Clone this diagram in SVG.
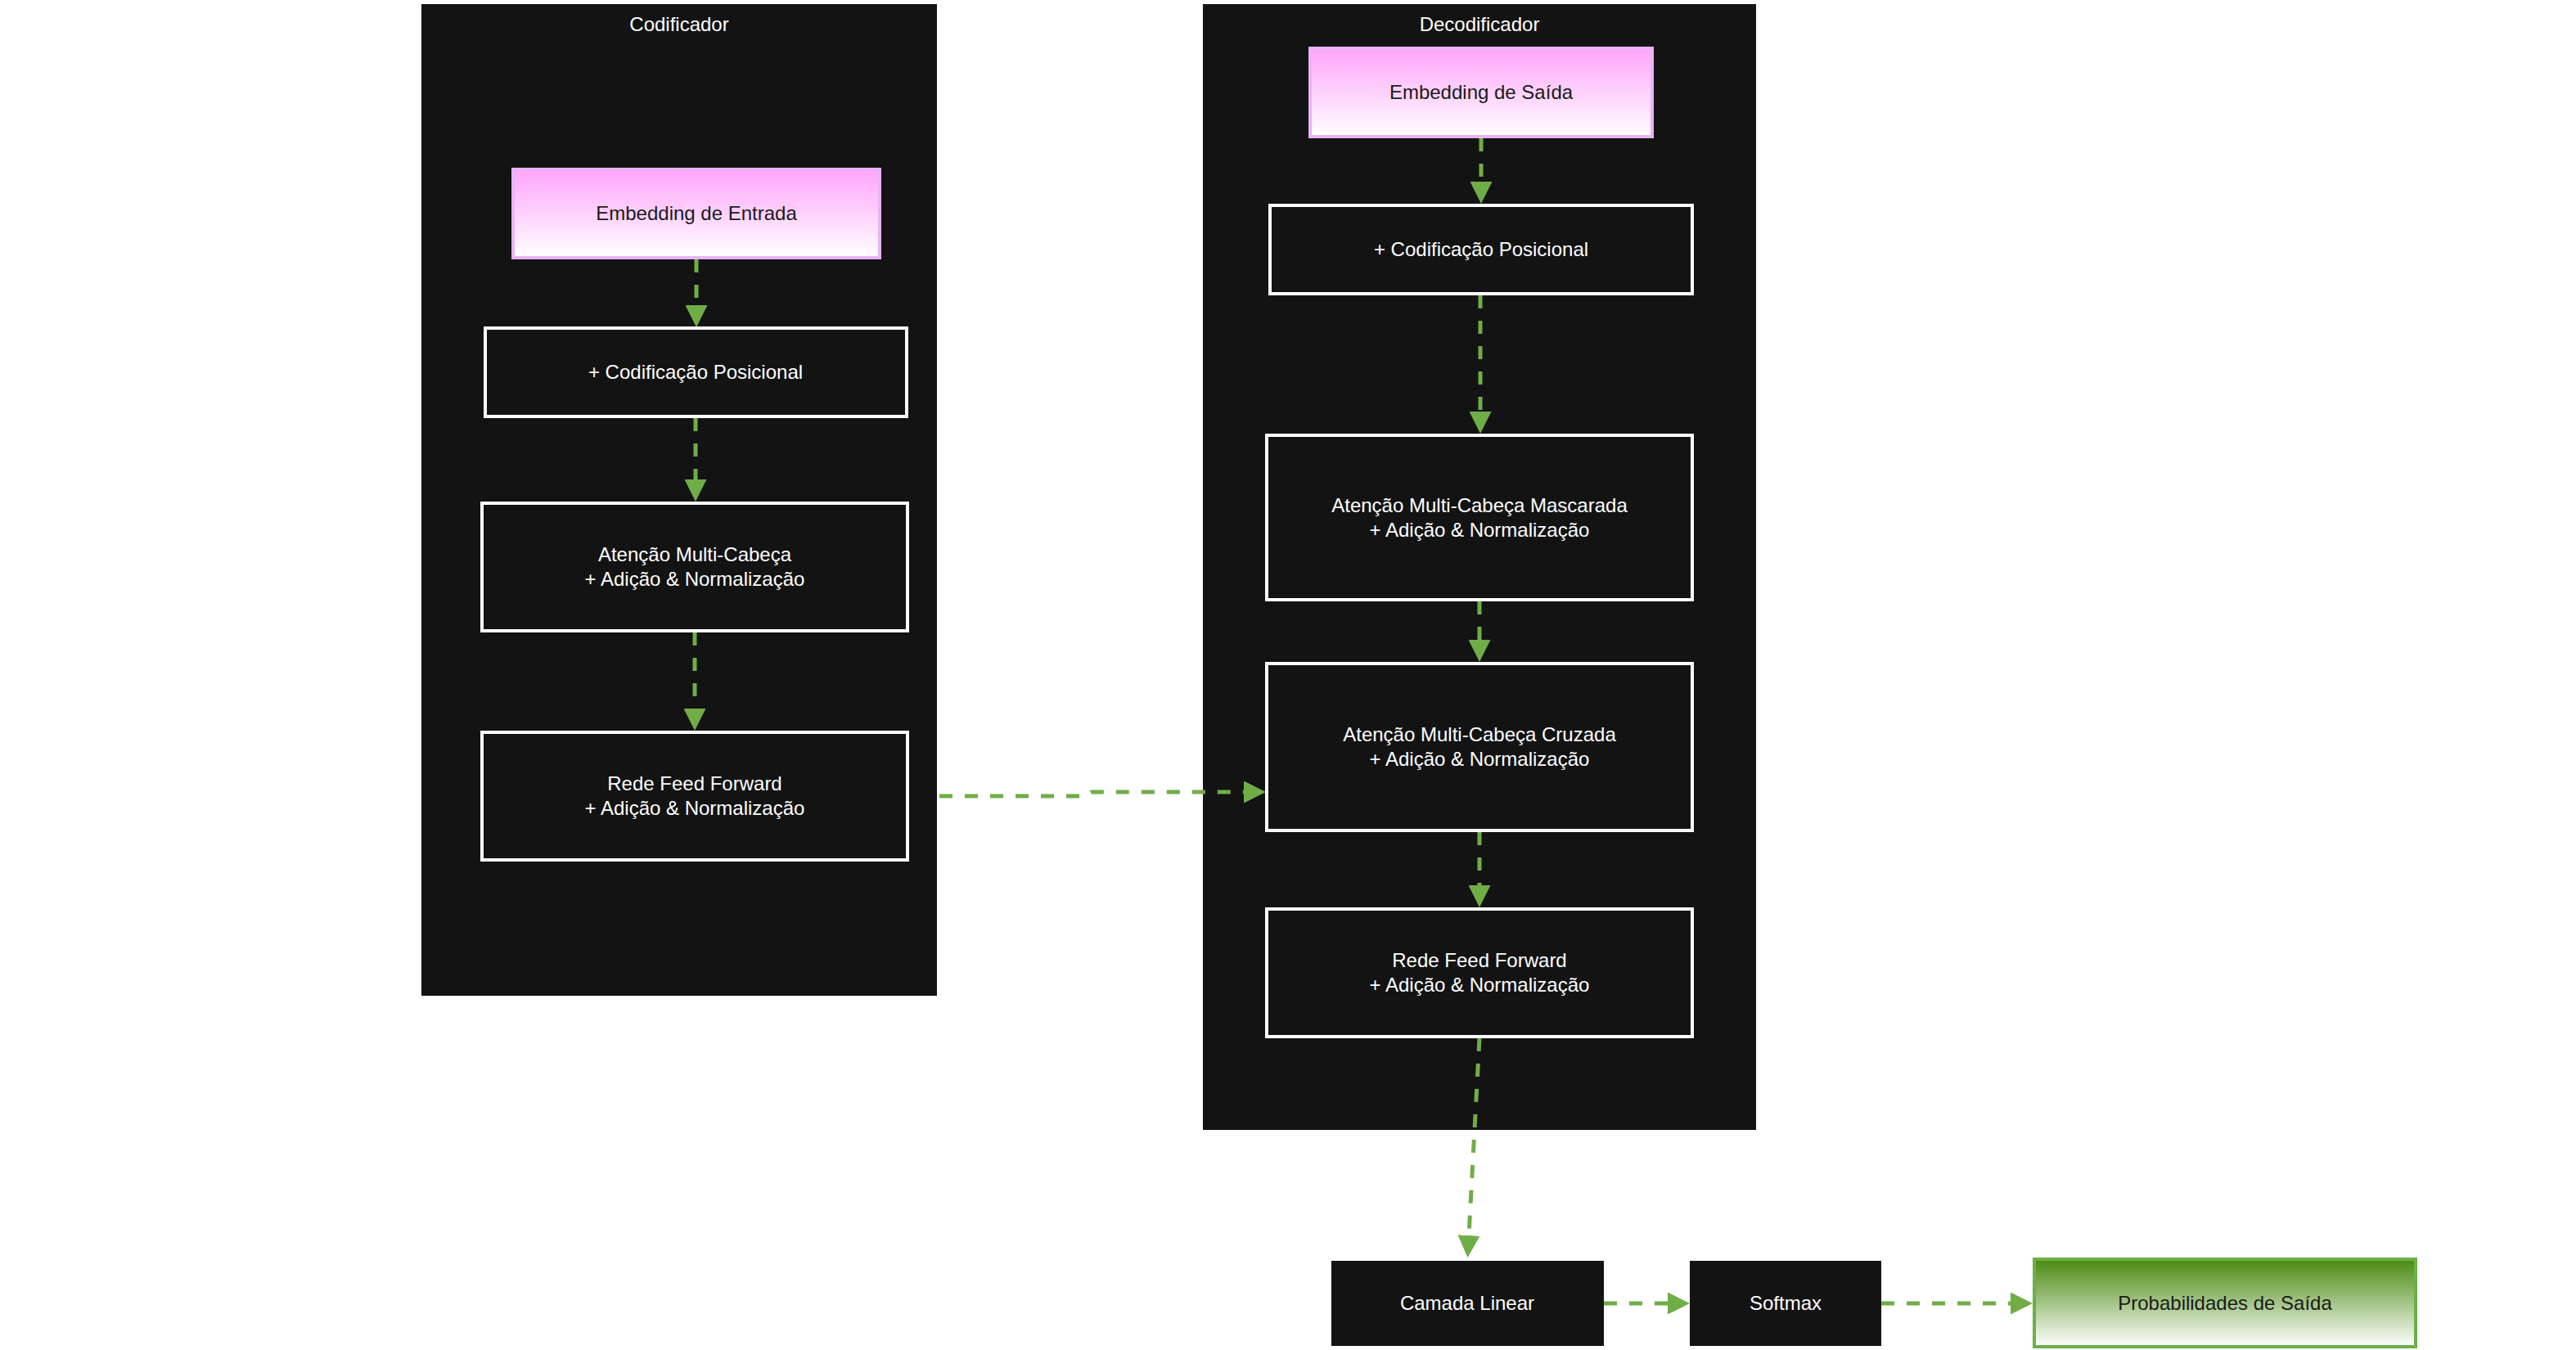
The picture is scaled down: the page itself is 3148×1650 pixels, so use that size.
<svg xmlns="http://www.w3.org/2000/svg" width="3148" height="1650" viewBox="0 0 3148 1650">
<defs>
<linearGradient id="gPink" x1="0" y1="0" x2="0" y2="1">
<stop offset="0" stop-color="#ffa4fb"/>
<stop offset="1" stop-color="#ffffff"/>
</linearGradient>
<linearGradient id="gGreen" x1="0" y1="0" x2="0" y2="1">
<stop offset="0" stop-color="#4a8a10"/>
<stop offset="1" stop-color="#ffffff"/>
</linearGradient>
<marker id="arr" viewBox="0 0 27 27" refX="0" refY="13.5" markerWidth="27" markerHeight="27" markerUnits="userSpaceOnUse" orient="auto">
<path d="M0,0 L27,13.5 L0,27 z" fill="#70ad47"/>
</marker>
<style>
.cluster{fill:#131313;}
.ctitle{fill:#ffffff;font-family:"Liberation Sans",Arial,sans-serif;font-size:24px;text-anchor:middle;}
.box{fill:#131313;stroke:#ffffff;stroke-width:4;}
.plain{fill:#131313;}
.emb{fill:url(#gPink);stroke:#e8b4f6;stroke-width:4;}
.out{fill:url(#gGreen);stroke:#6cb048;stroke-width:4;}
.tw{fill:#ffffff;font-family:"Liberation Sans",Arial,sans-serif;font-size:24px;text-anchor:middle;}
.td{fill:#1a1a1a;font-family:"Liberation Sans",Arial,sans-serif;font-size:24px;text-anchor:middle;}
.edge{fill:none;stroke:#70ad47;stroke-width:5;stroke-dasharray:16 15;marker-end:url(#arr);}
</style>
</defs>
<rect width="3148" height="1650" fill="#ffffff"/>

<g id="cluster-encoder">
<rect class="cluster" x="515" y="5" width="630" height="1212"/>
<text class="ctitle" x="830" y="38">Codificador</text>
</g>
<g id="cluster-decoder">
<rect class="cluster" x="1470" y="5" width="676" height="1376"/>
<text class="ctitle" x="1808" y="38">Decodificador</text>
</g>

<g id="connectors">
<path class="edge" d="M851,317 L851,373"/>
<path class="edge" d="M850,511 L850,586"/>
<path class="edge" d="M849,773 L849,866"/>
<path class="edge" d="M1810,169 L1810,222"/>
<path class="edge" d="M1809,361 L1809,503"/>
<path class="edge" d="M1808,735 L1808,782"/>
<path class="edge" d="M1808,1017 L1808,1082"/>
<path class="edge" d="M1148,973 L1324,973 L1334,968 L1520,968"/>
<path class="edge" d="M1808,1269 L1795,1510"/>
<path class="edge" d="M1960,1593 L2038,1593"/>
<path class="edge" d="M2299,1593 L2457,1593"/>
</g>

<g id="enc-embedding">
<rect class="emb" x="627" y="207" width="448" height="108"/>
<text class="td" x="851" y="269">Embedding de Entrada</text>
</g>
<g id="enc-posenc">
<rect class="box" x="593" y="401" width="515" height="108"/>
<text class="tw" x="850" y="463">+ Codificação Posicional</text>
</g>
<g id="enc-attn">
<rect class="box" x="589" y="615" width="520" height="156"/>
<text class="tw" x="849" y="686">Atenção Multi-Cabeça</text>
<text class="tw" x="849" y="716">+ Adição &amp; Normalização</text>
</g>
<g id="enc-ff">
<rect class="box" x="589" y="895" width="520" height="156"/>
<text class="tw" x="849" y="966">Rede Feed Forward</text>
<text class="tw" x="849" y="996">+ Adição &amp; Normalização</text>
</g>

<g id="dec-embedding">
<rect class="emb" x="1601" y="59" width="418" height="108"/>
<text class="td" x="1810" y="121">Embedding de Saída</text>
</g>
<g id="dec-posenc">
<rect class="box" x="1552" y="251" width="516" height="108"/>
<text class="tw" x="1810" y="313">+ Codificação Posicional</text>
</g>
<g id="dec-masked">
<rect class="box" x="1548" y="532" width="520" height="201"/>
<text class="tw" x="1808" y="626">Atenção Multi-Cabeça Mascarada</text>
<text class="tw" x="1808" y="656">+ Adição &amp; Normalização</text>
</g>
<g id="dec-cross">
<rect class="box" x="1548" y="811" width="520" height="204"/>
<text class="tw" x="1808" y="906">Atenção Multi-Cabeça Cruzada</text>
<text class="tw" x="1808" y="936">+ Adição &amp; Normalização</text>
</g>
<g id="dec-ff">
<rect class="box" x="1548" y="1111" width="520" height="156"/>
<text class="tw" x="1808" y="1182">Rede Feed Forward</text>
<text class="tw" x="1808" y="1212">+ Adição &amp; Normalização</text>
</g>

<g id="linear">
<rect class="plain" x="1627" y="1541" width="333" height="104"/>
<text class="tw" x="1793" y="1601">Camada Linear</text>
</g>
<g id="softmax">
<rect class="plain" x="2065" y="1541" width="234" height="104"/>
<text class="tw" x="2182" y="1601">Softmax</text>
</g>
<g id="output-probs">
<rect class="out" x="2486" y="1539" width="466" height="107"/>
<text class="td" x="2719" y="1601">Probabilidades de Saída</text>
</g>
</svg>
